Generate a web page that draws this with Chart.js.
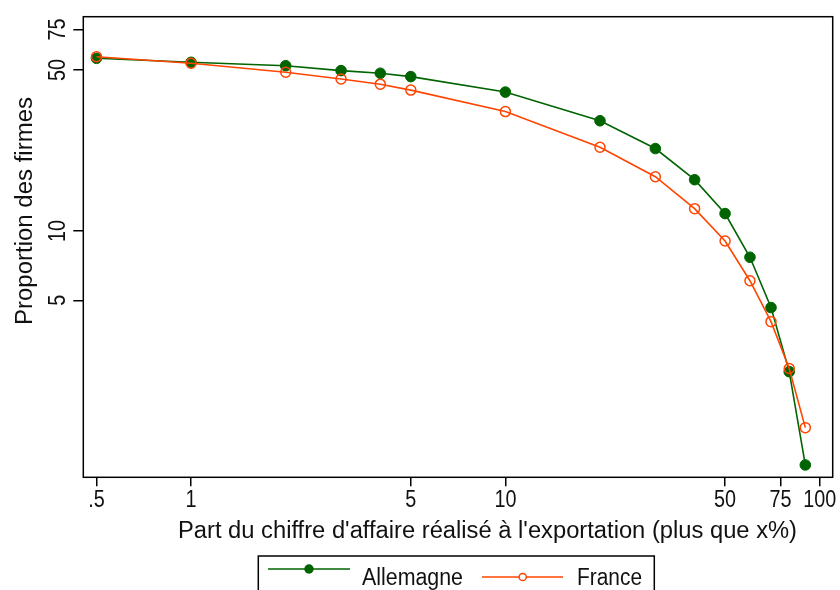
<!DOCTYPE html>
<html><head><meta charset="utf-8">
<script src="https://cdn.jsdelivr.net/npm/chart.js@4/dist/chart.umd.min.js"></script>
<style>html,body{margin:0;padding:0;background:#fff;} #wrap{width:840px;height:590px;}</style>
</head><body><div id="wrap"><canvas id="c" width="840" height="590"></canvas></div>
<script>
// ---- data ----
const exportShare = [0.5, 1, 2, 3, 4, 5, 10, 20, 30, 40, 50, 60, 70, 80, 90];
const allemagne = [56.2, 54.0, 52.2, 49.7, 48.4, 46.8, 40.1, 30.1, 22.8, 16.7, 11.9, 7.69, 4.65, 2.45, 0.964];
const france    = [57.1, 53.5, 48.9, 45.7, 43.4, 40.9, 33.0, 23.1, 17.2, 12.5, 9.05, 6.08, 4.04, 2.53, 1.40];
const xTickValues = [0.5, 1, 5, 10, 50, 75, 100];
const yTickValues = [5, 10, 50, 75];
const seriesNames = ['Allemagne', 'France'];
const xTitle = "Part du chiffre d'affaire réalisé à l'exportation (plus que x%)";
const yTitle = "Proportion des firmes";

const GREEN = '#006400', ORANGE = '#ff4500';
const FONT = '"Liberation Sans", Arial, sans-serif';

function fmtTick(v) { return v < 1 ? String(v).replace(/^0/, '') : String(v); }

function txt(ctx, s, x, y, o) {
  o = o || {};
  const size = o.size || 23;
  ctx.save();
  ctx.font = size + 'px ' + FONT;
  ctx.translate(x, y);
  if (o.rot) ctx.rotate(o.rot);
  const w = ctx.measureText(s).width;
  const sc = o.width ? o.width / w : (o.sx || 0.88);
  ctx.scale(sc, 1);
  ctx.textBaseline = 'alphabetic';
  ctx.textAlign = o.align || 'left';
  ctx.fillStyle = '#111';
  ctx.fillText(s, 0, 0);
  ctx.restore();
}

const decor = {
  id: 'decor',
  afterDraw(chart) {
    const ctx = chart.ctx, a = chart.chartArea;
    const xs = chart.scales.x, ys = chart.scales.y;
    // plot frame
    ctx.save();
    ctx.strokeStyle = '#000'; ctx.lineWidth = 1.5;
    ctx.strokeRect(a.left, a.top, a.right - a.left, a.bottom - a.top);
    ctx.restore();
    // x tick labels
    xTickValues.forEach(v => txt(ctx, fmtTick(v), xs.getPixelForValue(v), 506.5, {align: 'center', size: 23, sx: 0.86}));
    // y tick labels (rotated)
    yTickValues.forEach(v => txt(ctx, fmtTick(v), 65, ys.getPixelForValue(v), {align: 'center', size: 23, sx: 0.86, rot: -Math.PI / 2}));
    // axis titles
    txt(ctx, xTitle, 178, 538.3, {size: 23, width: 619});
    txt(ctx, yTitle, 32, 325, {size: 23, width: 228, rot: -Math.PI / 2});
    // legend
    const ds = chart.data.datasets;
    ctx.save();
    ctx.fillStyle = '#fff';
    ctx.fillRect(258.3, 556, 396, 40);
    ctx.strokeStyle = '#000'; ctx.lineWidth = 1.5;
    ctx.strokeRect(258.3, 556, 396, 40);
    // entry 1
    ctx.strokeStyle = ds[0].borderColor; ctx.lineWidth = 1.5;
    ctx.beginPath(); ctx.moveTo(268, 569); ctx.lineTo(350, 569); ctx.stroke();
    ctx.fillStyle = ds[0].pointBackgroundColor;
    ctx.beginPath(); ctx.arc(309, 569, 4.7, 0, Math.PI * 2); ctx.fill();
    // entry 2
    ctx.strokeStyle = ds[1].borderColor;
    ctx.beginPath(); ctx.moveTo(482, 577); ctx.lineTo(563, 577); ctx.stroke();
    ctx.fillStyle = '#fff';
    ctx.beginPath(); ctx.arc(522.7, 577, 3.6, 0, Math.PI * 2); ctx.fill(); ctx.stroke();
    ctx.restore();
    txt(ctx, ds[0].label, 362, 585, {size: 23, width: 101});
    txt(ctx, ds[1].label, 577, 585, {size: 23, width: 65});
  }
};

new Chart(document.getElementById('c').getContext('2d'), {
  type: 'line',
  data: {
    datasets: [
      {
        label: seriesNames[0],
        data: exportShare.map((x, i) => ({x: x, y: allemagne[i]})),
        borderColor: GREEN, backgroundColor: GREEN,
        pointBackgroundColor: GREEN, pointBorderColor: GREEN,
        pointRadius: 5.3, pointBorderWidth: 1, borderWidth: 1.6,
        tension: 0, order: 1
      },
      {
        label: seriesNames[1],
        data: exportShare.map((x, i) => ({x: x, y: france[i]})),
        borderColor: ORANGE, backgroundColor: '#fff',
        pointBackgroundColor: 'rgba(255,255,255,0)', pointBorderColor: ORANGE,
        pointRadius: 5, pointBorderWidth: 1.5, borderWidth: 1.6,
        tension: 0, order: 0
      }
    ]
  },
  options: {
    responsive: false, animation: false, events: [],
    layout: {padding: {left: 0, top: 16.7, right: 7.3, bottom: 0}},
    plugins: {legend: {display: false}, tooltip: {enabled: false}},
    scales: {
      x: {
        type: 'logarithmic', min: 0.454, max: 110,
        afterBuildTicks: s => { s.ticks = xTickValues.map(v => ({value: v})); },
        afterFit: s => { s.height = 112.7; },
        grid: {drawOnChartArea: false, drawTicks: true, tickLength: 9, color: '#000', lineWidth: 1.5},
        border: {display: false},
        ticks: {color: 'rgba(0,0,0,0)', autoSkip: false, maxRotation: 0, minRotation: 0, callback: v => fmtTick(v)}
      },
      y: {
        type: 'logarithmic', min: 0.852, max: 85.2,
        afterBuildTicks: s => { s.ticks = yTickValues.map(v => ({value: v})); },
        afterFit: s => { s.width = 83.3; },
        grid: {drawOnChartArea: false, drawTicks: true, tickLength: 10, color: '#000', lineWidth: 1.5},
        border: {display: false},
        ticks: {color: 'rgba(0,0,0,0)', autoSkip: false, callback: v => fmtTick(v)}
      }
    }
  },
  plugins: [decor]
});
</script>
</body></html>
